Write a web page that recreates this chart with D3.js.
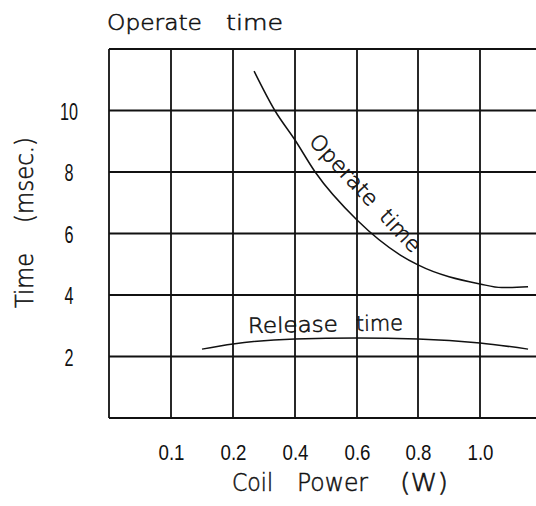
<!DOCTYPE html>
<html><head><meta charset="utf-8">
<script src="https://cdn.jsdelivr.net/npm/d3@7"></script>
<style>
html,body{margin:0;padding:0;background:#fff;}
svg{display:block;}
.lbl{font-family:"DejaVu Sans",sans-serif;font-weight:200;fill:#111;stroke:#111;stroke-width:0.55px;}
.num{font-family:"Liberation Sans",Arial,sans-serif;fill:#111;}
</style></head>
<body>
<script>
// ---- data ----
const xGridValues = [0, 0.1, 0.2, 0.4, 0.6, 0.8, 1.0, 1.2];
const xTickValues = [0.1, 0.2, 0.4, 0.6, 0.8, 1.0];
const yGridValues = [0, 2, 4, 6, 8, 10, 12];
const yTickValues = [2, 4, 6, 8, 10];
const operatePower = [0.268, 0.335, 0.4, 0.465, 0.6, 0.742, 0.8, 1.0, 1.07, 1.155];
const operateTime  = [11.28, 10.0, 9.04, 8.0, 6.44, 5.30, 4.98, 4.36, 4.24, 4.27];
const releasePower = [0.15, 0.2, 0.4, 0.6, 0.8, 1.0, 1.155];
const releaseTime  = [2.24, 2.41, 2.57, 2.60, 2.57, 2.44, 2.24];

const W = 536, H = 506;
const svg = d3.select("body").append("svg").attr("width", W).attr("height", H);

const x = d3.scaleLinear().domain(xGridValues).range([109, 171, 233, 295, 357, 418, 480, 542]);
const y = d3.scaleLinear().domain([0, 12]).range([418, 49]);

// grid
const grid = svg.append("g").attr("stroke", "#111").attr("stroke-width", 1.8);
grid.selectAll("line.v").data(xGridValues).join("line")
  .attr("x1", d => x(d)).attr("x2", d => x(d))
  .attr("y1", y(0)).attr("y2", y(12));
grid.selectAll("line.h").data(yGridValues).join("line")
  .attr("x1", x(0)).attr("x2", x(1.2))
  .attr("y1", d => y(d)).attr("y2", d => y(d));

// axes labels
const xAxis = d3.axisBottom(x).tickValues(xTickValues).tickSize(0).tickPadding(0)
  .tickFormat(d3.format(".1f"));
const gx = svg.append("g").attr("transform", `translate(0,${y(0)})`).call(xAxis);
gx.select(".domain").remove();
gx.selectAll("text").attr("class", "num").attr("font-size", 22)
  .attr("y", 42).attr("dy", 0).attr("fill", "#111")
  .attr("textLength", 26).attr("lengthAdjust", "spacingAndGlyphs");

const yAxis = d3.axisLeft(y).tickValues(yTickValues).tickSize(0).tickFormat(d3.format("d"));
const gy = svg.append("g").attr("transform", `translate(${x(0)},0)`).call(yAxis);
gy.select(".domain").remove();
gy.selectAll("text").attr("class", "num").attr("font-size", 24)
  .attr("x", -40).attr("text-anchor", "middle").attr("dy", "0.36em").attr("fill", "#111")
  .attr("textLength", d => String(d).length * 9).attr("lengthAdjust", "spacingAndGlyphs");

// curves
const line = d3.line().x(d => x(d[0])).y(d => y(d[1])).curve(d3.curveMonotoneX);
svg.append("path").datum(operatePower.map((p, i) => [p, operateTime[i]]))
  .attr("d", line).attr("fill", "none").attr("stroke", "#111").attr("stroke-width", 1.5);
svg.append("path").datum(releasePower.map((p, i) => [p, releaseTime[i]]))
  .attr("d", line).attr("fill", "none").attr("stroke", "#111").attr("stroke-width", 1.5);

function words(g, items, size) {
  items.forEach(([t, xx, len]) => {
    g.append("text").attr("class", "lbl").attr("x", xx).attr("y", 0)
      .attr("font-size", size).attr("textLength", len).attr("lengthAdjust", "spacingAndGlyphs")
      .text(t);
  });
}

// title
words(svg.append("g").attr("transform", "translate(0,30)"),
  [["Operate", 107, 95], ["time", 226, 57]], 22);

// x axis title
words(svg.append("g").attr("transform", "translate(0,491)"),
  [["Coil", 232, 41], ["Power", 297, 71], ["(W)", 400, 48]], 25);

// y axis title
words(svg.append("g").attr("transform", "translate(33,308) rotate(-90)"),
  [["Time", 0, 55], ["(msec.)", 85, 86]], 25);

// curve labels
words(svg.append("g").attr("transform", "translate(308,142) rotate(47)"),
  [["Operate", 0, 90], ["time", 103, 50]], 21);
words(svg.append("g").attr("transform", "translate(248,333) rotate(-1.1)"),
  [["Release", 0, 90], ["time", 108, 47]], 21);
</script>
</body></html>
